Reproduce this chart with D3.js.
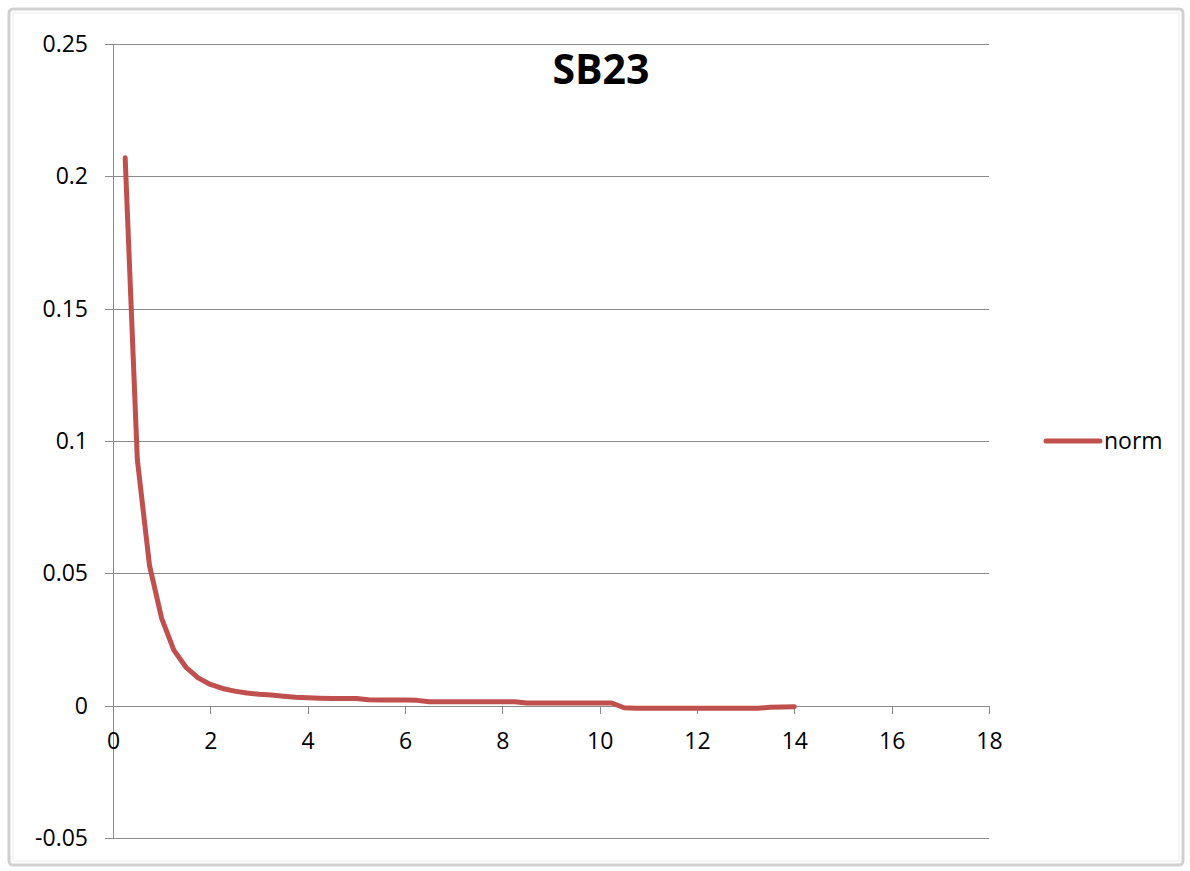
<!DOCTYPE html>
<html>
<head>
<meta charset="utf-8">
<script src="https://cdn.jsdelivr.net/npm/d3@7"></script>
<style>
  html, body { margin: 0; padding: 0; background: #fff; }
  svg { display: block; }
  text { font-family: "Open Sans", "Liberation Sans", sans-serif; fill: #000; }
</style>
</head>
<body>
<svg id="chart" width="1190" height="871"></svg>
<script>
// ---- data ----
const chartTitle = "SB23";
const seriesName = "norm";
const xValues = [0.25, 0.5, 0.75, 1.0, 1.25, 1.5, 1.75, 2.0, 2.25, 2.5, 2.75, 3.0,
  3.25, 3.5, 3.75, 4.0, 4.25, 4.5, 4.75, 5.0, 5.25, 5.5, 5.75, 6.0, 6.25, 6.5,
  6.75, 7.0, 7.25, 7.5, 7.75, 8.0, 8.25, 8.5, 8.75, 9.0, 9.25, 9.5, 9.75, 10.0,
  10.25, 10.5, 10.75, 11.0, 11.25, 11.5, 11.75, 12.0, 12.25, 12.5, 12.75, 13.0,
  13.25, 13.5, 13.75, 14.0];
const normValues = [0.207, 0.093, 0.053, 0.033, 0.021, 0.0145, 0.0105, 0.008,
  0.0065, 0.0055, 0.0048, 0.0043, 0.004, 0.0036, 0.0032, 0.003, 0.0028, 0.0027,
  0.0027, 0.0027, 0.0022, 0.0021, 0.0021, 0.0021, 0.002, 0.0015, 0.0015, 0.0015,
  0.0015, 0.0015, 0.0015, 0.0015, 0.0015, 0.001, 0.001, 0.001, 0.001, 0.001,
  0.001, 0.001, 0.001, -0.0008, -0.001, -0.001, -0.001, -0.001, -0.001, -0.001,
  -0.001, -0.001, -0.001, -0.001, -0.001, -0.0006, -0.0005, -0.0004];
const xTicks = [0, 2, 4, 6, 8, 10, 12, 14, 16, 18];
const xTickLabels = ["0", "2", "4", "6", "8", "10", "12", "14", "16", "18"];
const yTicks = [-0.05, 0, 0.05, 0.1, 0.15, 0.2, 0.25];
const yTickLabels = ["-0.05", "0", "0.05", "0.1", "0.15", "0.2", "0.25"];

// ---- layout ----
const svg = d3.select("#chart");
const plot = { left: 113, right: 989, top: 44, bottom: 838 };
const x = d3.scaleLinear().domain([0, 18]).range([plot.left, plot.right]);
const y = d3.scaleLinear().domain([-0.05, 0.25]).range([plot.bottom, plot.top]);
const gridColor = "#8a8a8a";
const lineColor = "#c0504d";

// frame
svg.append("rect").attr("x", 9).attr("y", 9).attr("width", 1174).attr("height", 856)
  .attr("rx", 4).attr("fill", "#fff").attr("stroke", "#d0d0d0").attr("stroke-width", 3);
svg.append("rect").attr("x", 13).attr("y", 13).attr("width", 1166).attr("height", 848)
  .attr("fill", "none").attr("stroke", "#ececec").attr("stroke-width", 1);

// horizontal gridlines + y tick marks
const yAxis = d3.axisLeft(y).tickValues(yTicks)
  .tickSize(-(plot.right - plot.left))
  .tickFormat((d, i) => yTickLabels[i]);
const gy = svg.append("g").attr("transform", `translate(${plot.left},0)`).call(yAxis);
gy.select(".domain").remove();
gy.selectAll(".tick line").attr("stroke", gridColor).attr("stroke-width", 1)
  .attr("x1", -8).attr("shape-rendering", "crispEdges");
gy.selectAll(".tick text").attr("x", -25).attr("dy", "0.32em")
  .style("font-size", "23px").style("font-family", "'Open Sans', sans-serif").attr("fill", "#000");

// y axis line
svg.append("line").attr("x1", plot.left).attr("x2", plot.left)
  .attr("y1", plot.top).attr("y2", plot.bottom)
  .attr("stroke", gridColor).attr("stroke-width", 1).attr("shape-rendering", "crispEdges");

// x axis at y=0
const xAxis = d3.axisBottom(x).tickValues(xTicks).tickSize(8)
  .tickFormat((d, i) => xTickLabels[i]);
const gx = svg.append("g").attr("transform", `translate(0,${y(0)})`).call(xAxis);
gx.select(".domain").remove();
gx.selectAll(".tick line").attr("stroke", gridColor).attr("shape-rendering", "crispEdges");
gx.selectAll(".tick text").attr("y", 36).attr("dy", "0.32em")
  .style("font-size", "23px").style("font-family", "'Open Sans', sans-serif").attr("fill", "#000");

// series line
const data = xValues.map((v, i) => ({ x: v, y: normValues[i] }));
svg.append("path").datum(data)
  .attr("fill", "none").attr("stroke", lineColor).attr("stroke-width", 5)
  .attr("stroke-linejoin", "round").attr("stroke-linecap", "round")
  .attr("d", d3.line().x(d => x(d.x)).y(d => y(d.y)).curve(d3.curveLinear));

// title
svg.append("text").attr("x", 601).attr("y", 84).attr("text-anchor", "middle")
  .style("font-size", "41px").style("font-weight", "bold").text(chartTitle);

// legend
svg.append("line").attr("x1", 1046).attr("x2", 1100).attr("y1", 441).attr("y2", 441)
  .attr("stroke", lineColor).attr("stroke-width", 5).attr("stroke-linecap", "round");
svg.append("text").attr("x", 1104).attr("y", 441).attr("dy", "0.35em")
  .style("font-size", "23px").text(seriesName);
</script>
</body>
</html>
